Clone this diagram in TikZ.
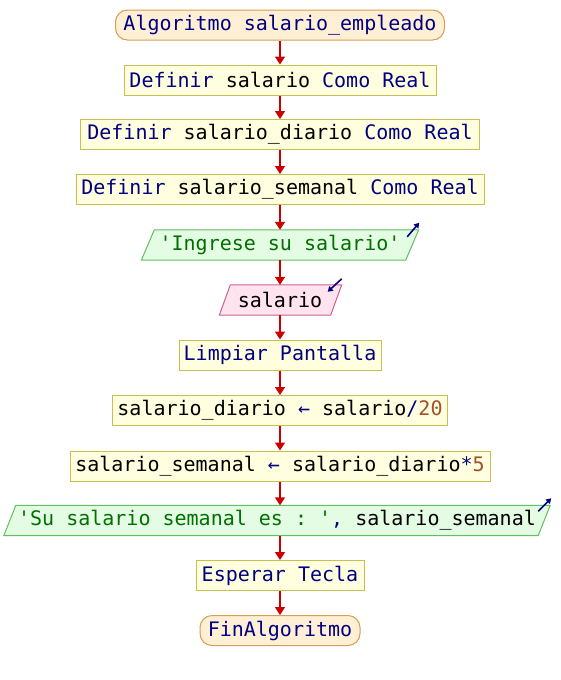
\documentclass[tikz,border=0pt]{standalone}
\usepackage{fontspec}
\setmonofont{DejaVu Sans Mono}
\usetikzlibrary{arrows.meta,calc}
\definecolor{kw}{HTML}{000080}
\definecolor{str}{HTML}{007000}
\definecolor{num}{HTML}{A0522D}
\definecolor{arr}{HTML}{CC0000}
\definecolor{procfill}{HTML}{FFFFE0}
\definecolor{procdraw}{HTML}{C8C050}
\definecolor{termfill}{HTML}{FFEFD5}
\definecolor{termdraw}{HTML}{D2A050}
\definecolor{outfill}{HTML}{E4FCE4}
\definecolor{outdraw}{HTML}{60C060}
\definecolor{infill}{HTML}{FFE4F0}
\definecolor{indraw}{HTML}{CC6090}
\begin{document}
\begin{tikzpicture}[x=1pt,y=-1pt,
  every node/.style={font=\ttfamily\fontsize{20}{24}\selectfont, inner sep=0pt, minimum height=30pt},
  proc/.style={draw=procdraw, fill=procfill, line width=1pt},
  term/.style={draw=termdraw, fill=termfill, line width=1pt, rounded corners=12pt},
  iobox/.style={},
  flow/.style={draw=arr, line width=1.6pt, -{Triangle[width=10pt,length=8pt]}},
  ind/.style={draw=kw, line width=1.6pt, -{Triangle[width=6pt,length=5pt]}}
]
\useasboundingbox (0,0) rectangle (560,680);

\node[term, minimum width=329pt] (start) at (280,25) {\textcolor{kw}{Algoritmo salario\_empleado}};
\node[proc, minimum width=312pt] (d1) at (280,80) {\textcolor{kw}{Definir} salario \textcolor{kw}{Como Real}};
\node[proc, minimum width=399pt] (d2) at (280,134.5) {\textcolor{kw}{Definir} salario\_diario \textcolor{kw}{Como Real}};
\node[proc, minimum width=408pt] (d3) at (280,189.5) {\textcolor{kw}{Definir} salario\_semanal \textcolor{kw}{Como Real}};

% output 1
\node[iobox, minimum width=264pt] (o1) at (280,245) {};
\draw[draw=outdraw, fill=outfill, line width=1pt]
  ($(o1.north west)+(6.5,0)$) -- ($(o1.north east)+(6.5,0)$) --
  ($(o1.south east)+(-6.5,0)$) -- ($(o1.south west)+(-6.5,0)$) -- cycle;
\node at (o1) {\textcolor{str}{'Ingrese su salario'}};
\coordinate (o1a) at ($(o1.north east)+(-5,7)$);
\coordinate (o1b) at ($(o1.north east)+(7,-7)$);
\draw[ind] (o1a) -- (o1b);

% input
\node[iobox, minimum width=111pt] (in) at (280,300) {};
\draw[draw=indraw, fill=infill, line width=1pt]
  ($(in.north west)+(6,0)$) -- ($(in.north east)+(6,0)$) --
  ($(in.south east)+(-5,0)$) -- ($(in.south west)+(-5,0)$) -- cycle;
\node at (in) {salario};
\coordinate (ina) at ($(in.north east)+(6,-6)$);
\coordinate (inb) at ($(in.north east)+(-8,7)$);
\draw[ind] (ina) -- (inb);

\node[proc, minimum width=202pt] (lp) at (280,355) {\textcolor{kw}{Limpiar Pantalla}};
\node[proc, minimum width=335pt] (a1) at (280,410.5) {salario\_diario \textcolor{kw}{←} salario\textcolor{kw}{/}\textcolor{num}{20}};
\node[proc, minimum width=420pt] (a2) at (280,466) {salario\_semanal \textcolor{kw}{←} salario\_diario\textcolor{kw}{*}\textcolor{num}{5}};

% output 2
\node[iobox, minimum width=534pt] (o2) at (280,520.5) {};
\draw[draw=outdraw, fill=outfill, line width=1pt]
  ($(o2.north west)+(3,0)$) -- ($(o2.north east)+(3,0)$) --
  ($(o2.south east)+(-9,0)$) -- ($(o2.south west)+(-9,0)$) -- cycle;
\node at ($(o2)+(-3,0)$) {\textcolor{str}{'Su salario semanal es : '}\textcolor{kw}{,} salario\_semanal};
\coordinate (o2a) at ($(o2.north east)+(-9,6)$);
\coordinate (o2b) at ($(o2.north east)+(4,-7)$);
\draw[ind] (o2a) -- (o2b);

\node[proc, minimum width=168pt] (es) at (280,575.5) {\textcolor{kw}{Esperar Tecla}};
\node[term, minimum width=160pt] (fin) at (280,630.5) {\textcolor{kw}{FinAlgoritmo}};

\draw[flow] (start.south) -- (d1.north);
\draw[flow] (d1.south) -- (d2.north);
\draw[flow] (d2.south) -- (d3.north);
\draw[flow] (d3.south) -- (o1.north);
\draw[flow] (o1.south) -- (in.north);
\draw[flow] (in.south) -- (lp.north);
\draw[flow] (lp.south) -- (a1.north);
\draw[flow] (a1.south) -- (a2.north);
\draw[flow] (a2.south) -- (o2.north);
\draw[flow] (o2.south) -- (es.north);
\draw[flow] (es.south) -- (fin.north);
\end{tikzpicture}
\end{document}
